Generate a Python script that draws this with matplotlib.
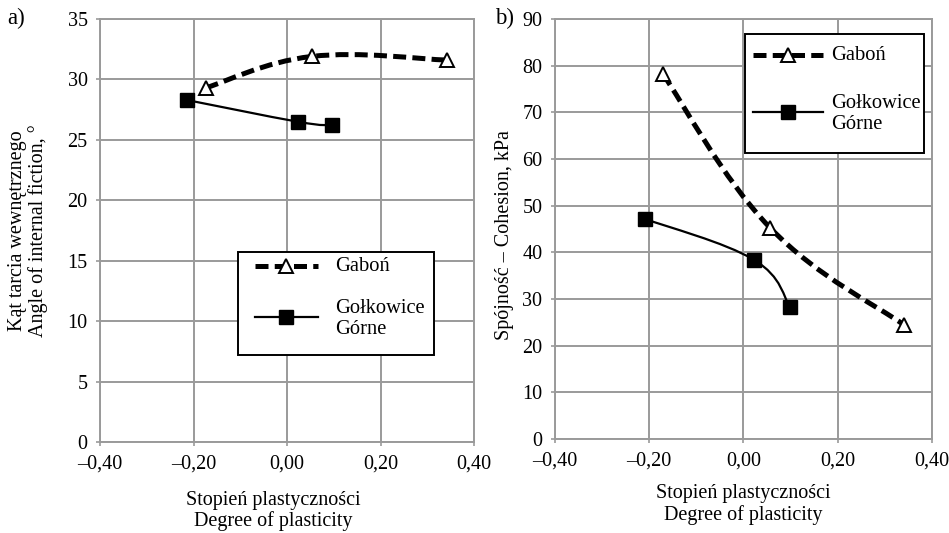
import numpy as np
import matplotlib.pyplot as plt
from matplotlib.path import Path
from matplotlib.patches import PathPatch, Rectangle

plt.rcParams['font.family'] = ['Liberation Serif', 'DejaVu Serif']

# a) angle of internal friction vs degree of plasticity
gabon_x_a = [-0.174, 0.053, 0.342]
gabon_y_a = [29.3, 31.9, 31.6]
golk_x_a = [-0.215, 0.023, 0.096]
golk_y_a = [28.3, 26.5, 26.2]

# b) cohesion vs degree of plasticity
gabon_x_b = [-0.171, 0.056, 0.341]
gabon_y_b = [78.2, 45.3, 24.4]
golk_x_b = [-0.210, 0.022, 0.099]
golk_y_b = [47.2, 38.4, 28.3]

x_ticks = [-0.4, -0.2, 0.0, 0.2, 0.4]
x_labels = ['–0,40', '–0,20', '0,00', '0,20', '0,40']
series_names = ['Gaboń', 'Gołkowice\nGórne']

GRID = '#9a9a9a'
DASH = (2.6, 1.25)
TICK_FS = 14.5
LAB_FS = 14.5
LEG_FS = 14.8

gabon_style = dict(color='black', linewidth=3.6, linestyle=(0, DASH))
gabon_marker = dict(marker='^', markersize=10.5, markerfacecolor='white',
                    markeredgecolor='black', markeredgewidth=1.4)
golk_style = dict(color='black', linewidth=1.6)
golk_marker = dict(marker='s', markersize=10.5, color='black')


def smooth_path(xs, ys, k=0.2):
    # excel-like smoothed line, cubic bezier through the points
    pts = np.column_stack([xs, ys])
    ext = np.vstack([pts[0], pts, pts[-1]])
    verts = [pts[0]]
    codes = [Path.MOVETO]
    for i in range(len(pts) - 1):
        p0, p1, p2, p3 = ext[i], ext[i + 1], ext[i + 2], ext[i + 3]
        verts += [p1 + (p2 - p0) * k, p2 - (p3 - p1) * k, p2]
        codes += [Path.CURVE4] * 3
    return Path(verts, codes)


def draw_panel(ax, gx, gy, kx, ky, ymax, ystep):
    ax.set_xlim(-0.4, 0.4)
    ax.set_ylim(0, ymax)
    ax.set_xticks(x_ticks)
    ax.set_xticklabels(x_labels)
    ax.set_yticks(np.arange(0, ymax + 1, ystep))
    ax.grid(True, color=GRID, linewidth=1.4)
    ax.set_axisbelow(True)
    for s in ax.spines.values():
        s.set_color(GRID)
        s.set_linewidth(1.4)
    ax.tick_params(length=3, color=GRID, width=1.2, pad=6, labelsize=TICK_FS)

    ax.add_patch(PathPatch(smooth_path(gx, gy), fill=False, edgecolor='black',
                           linewidth=3.6, linestyle=(0, DASH), zorder=3))
    ax.add_patch(PathPatch(smooth_path(kx, ky), fill=False, edgecolor='black',
                           linewidth=1.6, zorder=3))
    ax.plot(gx, gy, linestyle='none', zorder=4, **gabon_marker)
    ax.plot(kx, ky, linestyle='none', zorder=4, **golk_marker)


def draw_legend(ax, box, hx, ys, tx):
    # box: (x0, y0, x1, y1) in axes fraction; hx: handle x range; ys: entry centres
    x0, y0, x1, y1 = box
    ax.add_patch(Rectangle((x0, y0), x1 - x0, y1 - y0, transform=ax.transAxes,
                           facecolor='white', edgecolor='black', linewidth=1.4,
                           zorder=5))
    hm = (hx[0] + hx[1]) / 2
    ax.plot(hx, [ys[0], ys[0]], transform=ax.transAxes, zorder=6, **gabon_style)
    ax.plot([hm], [ys[0]], transform=ax.transAxes, zorder=7, **gabon_marker)
    ax.plot(hx, [ys[1], ys[1]], transform=ax.transAxes, zorder=6, **golk_style)
    ax.plot([hm], [ys[1]], transform=ax.transAxes, zorder=7, **golk_marker)
    ax.text(tx, ys[0], series_names[0], transform=ax.transAxes, va='center',
            ha='left', fontsize=LEG_FS, zorder=7)
    ax.text(tx, ys[1] - 0.005, series_names[1], transform=ax.transAxes, va='center',
            ha='left', fontsize=LEG_FS, linespacing=1.15, zorder=7)


fig = plt.figure(figsize=(9.49, 5.33), dpi=100)
ax1 = fig.add_axes([0.1054, 0.1707, 0.3941, 0.7937])
ax2 = fig.add_axes([0.5848, 0.1764, 0.3973, 0.7880])

draw_panel(ax1, gabon_x_a, gabon_y_a, golk_x_a, golk_y_a, 35, 5)
draw_panel(ax2, gabon_x_b, gabon_y_b, golk_x_b, golk_y_b, 90, 10)

ax1.set_ylabel('Kąt tarcia wewnętrznego\nAngle of internal fiction, °',
               fontsize=LAB_FS, linespacing=1.1)
ax1.yaxis.set_label_coords(-0.139, 0.5)
ax2.set_ylabel('Spójność – Cohesion, kPa', fontsize=LAB_FS)
ax2.yaxis.set_label_coords(-0.109, 0.486)

ax1.set_xlabel('Stopień plastyczności\nDegree of plasticity', fontsize=LAB_FS,
               linespacing=1.1)
ax1.xaxis.set_label_coords(0.463, -0.116)
ax2.set_xlabel('Stopień plastyczności\nDegree of plasticity', fontsize=LAB_FS,
               linespacing=1.1)
ax2.xaxis.set_label_coords(0.5, -0.108)
ax1.xaxis.label.set_va('top')
ax2.xaxis.label.set_va('top')

draw_legend(ax1, (0.369, 0.206, 0.893, 0.449), (0.414, 0.583), (0.416, 0.296), 0.628)
draw_legend(ax2, (0.504, 0.681, 0.979, 0.964), (0.525, 0.711), (0.914, 0.779), 0.732)

fig.text(0.008, 0.966, 'a)', fontsize=16.5, va='center')
fig.text(0.522, 0.966, 'b)', fontsize=16.5, va='center')

fig.savefig('out.png', dpi=100)
